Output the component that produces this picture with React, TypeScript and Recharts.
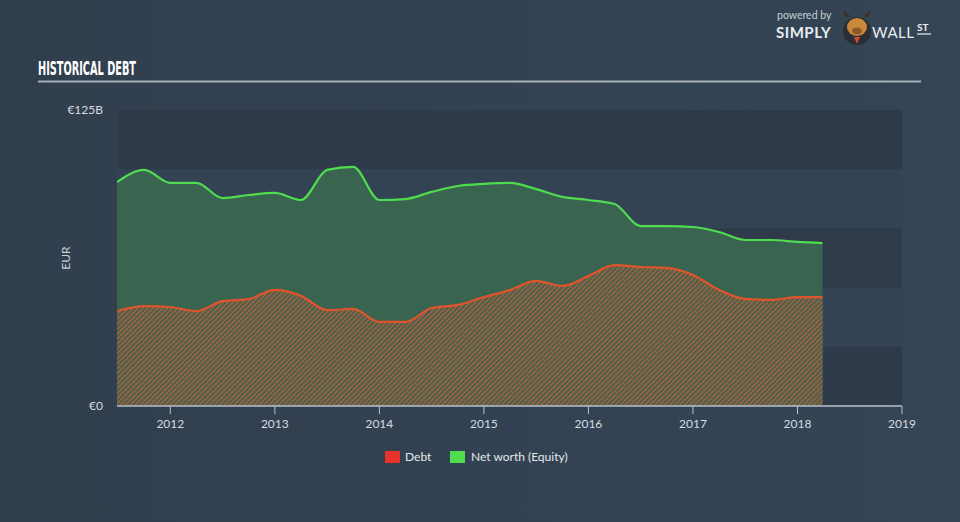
import React from "react";
import {
  AreaChart,
  Area,
  XAxis,
  YAxis,
  CartesianGrid,
} from "recharts";

const years = [
  2011.49, 2011.75, 2012.0, 2012.25, 2012.5, 2012.75, 2013.0, 2013.25, 2013.5,
  2013.75, 2014.0, 2014.25, 2014.5, 2014.75, 2015.0, 2015.25, 2015.5, 2015.75,
  2016.0, 2016.25, 2016.5, 2016.75, 2017.0, 2017.25, 2017.5, 2017.75, 2018.0,
  2018.24,
];

// € billions
const debt = [
  40.1, 42.2, 41.8, 40.1, 44.3, 45.2, 49.0, 46.5, 40.5, 41.0, 35.5, 35.5, 41.4,
  42.7, 46.0, 49.0, 52.8, 50.7, 54.9, 59.5, 58.7, 58.3, 55.3, 49.0, 45.2, 44.8,
  46.0, 46.0,
];

const equity = [
  94.6, 99.7, 94.2, 94.2, 87.8, 89.1, 90.0, 87.0, 99.7, 101.0, 87.0, 87.4, 90.4,
  92.9, 93.8, 94.2, 91.6, 88.3, 87.0, 85.3, 76.0, 76.0, 75.6, 73.5, 70.1, 70.1,
  69.3, 68.8,
];

const xTicks = [2012, 2013, 2014, 2015, 2016, 2017, 2018, 2019];
const yTicks = [0, 125];
const yLabels = ["€0", "€125B"];

const chartData = years.map((x, i) => ({ x, debt: debt[i], equity: equity[i] }));

const FONT = "Lato, 'Open Sans', sans-serif";

function YTick(props: any) {
  const { y, payload } = props;
  const idx = yTicks.indexOf(payload.value);
  return (
    <text x={103} y={y} dy={4} textAnchor="end" fill="#d5dbe1" fontSize={12} fontFamily={FONT}>
      {yLabels[idx]}
    </text>
  );
}

function XTick(props: any) {
  const { x, y, payload } = props;
  return (
    <text x={x} y={y} dy={12} textAnchor="middle" fill="#d5dbe1" fontSize={12} fontFamily={FONT}>
      {payload.value}
    </text>
  );
}

export default function App() {
  return (
    <div
      style={{
        position: "absolute",
        left: 0,
        top: 0,
        width: 960,
        height: 522,
        background: "linear-gradient(90deg, #313e4e 0%, #354556 100%)",
        overflow: "hidden",
      }}
    >
      <AreaChart
        width={960}
        height={522}
        data={chartData}
        margin={{ top: 110, right: 58, bottom: 86, left: 57 }}
      >
        <defs>
          <pattern
            id="hatch"
            width="3.5"
            height="3.5"
            patternUnits="userSpaceOnUse"
            patternTransform="rotate(45)"
          >
            <rect width="3.5" height="3.5" fill="#50604b" />
            <line x1="0" y1="0" x2="0" y2="3.5" stroke="#c0643c" strokeWidth="1.9" />
          </pattern>
        </defs>
        <CartesianGrid
          horizontal={true}
          vertical={false}
          stroke="none"
          horizontalPoints={[110, 169, 228, 288, 347]}
          horizontalFill={["#2e3a4a", "#334354", "#2f3b4b", "#334354", "#2e3a4a"]}
        />
        <XAxis
          dataKey="x"
          type="number"
          domain={[2011.49, 2019]}
          ticks={xTicks}
          height={30}
          tick={<XTick />}
          tickSize={8}
          tickLine={{ stroke: "#b8c1cb" }}
          axisLine={{ stroke: "#b8c1cb", strokeWidth: 1.5 }}
          allowDataOverflow
        />
        <YAxis
          type="number"
          domain={[0, 125]}
          ticks={yTicks}
          width={60}
          tick={<YTick />}
          tickLine={false}
          axisLine={false}
        />
        <Area
          type="monotone"
          dataKey="equity"
          stroke="#4fdc4f"
          strokeWidth={2.2}
          fill="#386450"
          fillOpacity={1}
          isAnimationActive={false}
          dot={false}
          activeDot={false}
        />
        <Area
          type="monotone"
          dataKey="debt"
          stroke="#e0542c"
          strokeWidth={2.2}
          fill="url(#hatch)"
          fillOpacity={1}
          isAnimationActive={false}
          dot={false}
          activeDot={false}
        />
      </AreaChart>

      <svg
        width={960}
        height={522}
        style={{ position: "absolute", left: 0, top: 0, pointerEvents: "none" }}
      >
        <text
          x={38}
          y={75}
          fill="#ffffff"
          fontSize={19}
          fontWeight="bold"
          fontFamily="'DejaVu Sans Condensed', sans-serif"
          textLength={98}
          lengthAdjust="spacingAndGlyphs"
        >
          HISTORICAL DEBT
        </text>
        <line x1={38} y1={81.5} x2={921} y2={81.5} stroke="#a7afb8" strokeWidth={2} />

        <text
          x={70}
          y={258}
          fill="#c9d0d7"
          fontSize={12}
          fontFamily={FONT}
          textAnchor="middle"
          transform="rotate(-90 70 258)"
        >
          EUR
        </text>

        {/* legend */}
        <rect x={385} y={451} width={15} height={12} fill="#e8322c" />
        <text x={405} y={461} fill="#e3e8ec" fontSize={12} fontFamily={FONT}>
          Debt
        </text>
        <rect x={450} y={451} width={15} height={12} fill="#4fdc4f" />
        <text x={471} y={461} fill="#e3e8ec" fontSize={12} fontFamily={FONT}>
          Net worth (Equity)
        </text>

        {/* logo */}
        <text x={777} y={19} fill="#c6cdd4" fontSize={10.5} fontFamily={FONT}>
          powered by
        </text>
        <text x={776} y={38} fill="#e9edf0" fontSize={15} fontWeight="bold" fontFamily={FONT} letterSpacing={0.5}>
          SIMPLY
        </text>
        <circle cx={857} cy={31} r={14} fill="#2b2f35" />
        <ellipse cx={857} cy={27} rx={10} ry={9} fill="#c8893a" />
        <ellipse cx={857} cy={31} rx={5} ry={3.5} fill="#8a5a2a" />
        <path d="M846 18 L843 10 L850 16 Z" fill="#3a3028" />
        <path d="M868 18 L871 10 L864 16 Z" fill="#3a3028" />
        <path d="M854 37 L860 37 L857 44 Z" fill="#d9492b" />
        <text x={872} y={38} fill="#e9edf0" fontSize={15} fontFamily={FONT} letterSpacing={0.5}>
          WALL
        </text>
        <text x={917} y={31} fill="#e9edf0" fontSize={10} fontWeight="bold" fontFamily={FONT}>
          ST
        </text>
        <line x1={917} y1={34} x2={931} y2={34} stroke="#e9edf0" strokeWidth={1.2} />
      </svg>
    </div>
  );
}
